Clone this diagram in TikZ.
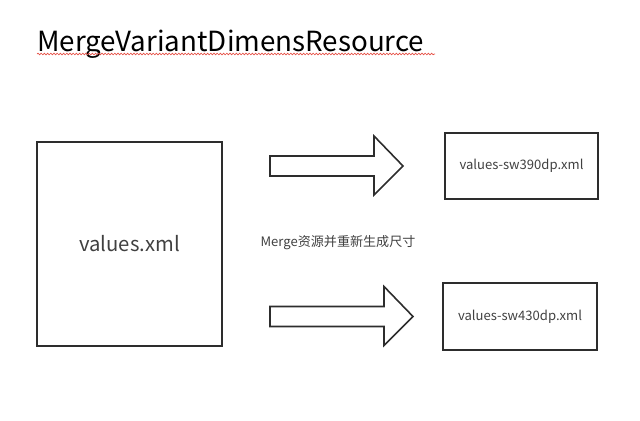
\documentclass[tikz,border=0pt]{standalone}
\usepackage{fontspec}
\setmainfont{Noto Sans CJK SC}
\usetikzlibrary{decorations.pathmorphing}
\definecolor{textgray}{RGB}{64,64,64}
\definecolor{linegray}{RGB}{45,45,45}
\definecolor{spellred}{RGB}{230,80,70}
\tikzset{filebox/.style={draw=linegray,line width=1.3pt,inner sep=0pt,text=textgray},
 fatarrow/.style={draw=linegray,line width=1.2pt,line join=miter},
 every node/.style={font=\fontsize{9.8}{12}\selectfont}}

\begin{document}
\begin{tikzpicture}[x=0.75pt,y=-0.75pt]
\useasboundingbox (0,0) rectangle (640,421);
\node[anchor=base west,text=black,inner sep=0pt,font=\fontsize{20.8}{25}\selectfont] (title) at (37,51) {MergeVariantDimensResource};
\draw[spellred,line width=0.5pt,decorate,decoration={snake,amplitude=0.6pt,segment length=2.4pt}]
 (title.base west)++(0,3) coordinate (squigA) -- ([xshift=8pt]title.base east|-squigA);
\node[filebox,minimum width=138.75pt,minimum height=153pt,font=\fontsize{15.2}{18}\selectfont] (src) at (129.5,244) {values.xml};
\foreach \name/\top/\left/\right/\bottom/\tip/\base/\label in {
 sw390/133/445/598/199/403/374/values-sw390dp.xml,
 sw430/283/443/597/350/413/384/values-sw430dp.xml} {
\node[filebox,minimum width={(\right-\left)*0.75pt},minimum height={(\bottom-\top)*0.75pt}]
 (\name) at ({(\left+\right)/2},{(\top+\bottom)/2}) {\label};
\draw[fatarrow] (270,{(\top+\bottom)/2-10}) -- (\base,{(\top+\bottom)/2-10}) -- (\base,{(\top+\bottom)/2-30})
 -- (\tip,{(\top+\bottom)/2}) -- (\base,{(\top+\bottom)/2+29}) -- (\base,{(\top+\bottom)/2+10})
 -- (270,{(\top+\bottom)/2+10}) -- cycle;
}
\node[text=textgray] (merge) at (338,243) {Merge资源并重新生成尺寸};
\end{tikzpicture}
\end{document}
